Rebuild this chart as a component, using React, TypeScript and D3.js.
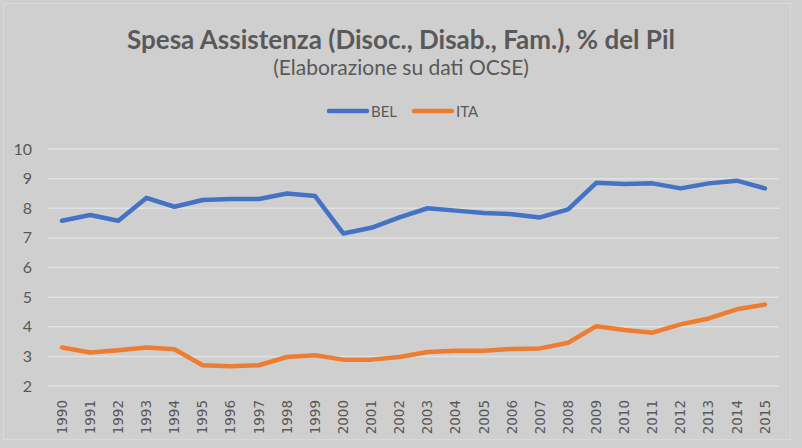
import React, { useEffect, useRef } from "react";
import * as d3 from "d3";

const years = [
  "1990", "1991", "1992", "1993", "1994", "1995", "1996", "1997", "1998",
  "1999", "2000", "2001", "2002", "2003", "2004", "2005", "2006", "2007",
  "2008", "2009", "2010", "2011", "2012", "2013", "2014", "2015",
];

const bel = [
  7.58, 7.77, 7.58, 8.35, 8.05, 8.28, 8.31, 8.31, 8.5, 8.41, 7.15, 7.34, 7.69,
  8.0, 7.92, 7.84, 7.8, 7.69, 7.96, 8.86, 8.82, 8.84, 8.67, 8.84, 8.93, 8.67,
];

const ita = [
  3.3, 3.13, 3.21, 3.3, 3.24, 2.7, 2.67, 2.7, 2.98, 3.04, 2.89, 2.89, 2.98,
  3.15, 3.19, 3.19, 3.25, 3.27, 3.46, 4.02, 3.89, 3.8, 4.08, 4.28, 4.59, 4.75,
];

const yTicks = [2, 3, 4, 5, 6, 7, 8, 9, 10];

const series = [
  { name: "BEL", values: bel, color: "#4472C4" },
  { name: "ITA", values: ita, color: "#ED7D31" },
];

const W = 802;
const H = 448;

const App: React.FC = () => {
  const ref = useRef<SVGSVGElement | null>(null);

  useEffect(() => {
    const svg = d3.select(ref.current);
    svg.selectAll("*").remove();

    const margin = { top: 149, right: 23, bottom: 62, left: 48 };
    const w = W - margin.left - margin.right;
    const h = H - margin.top - margin.bottom;
    const font = "Lato, 'Open Sans', sans-serif";

    // background + frame
    svg.append("rect").attr("width", W).attr("height", H).attr("fill", "#d0cfcf");
    svg
      .append("rect")
      .attr("x", 3.5)
      .attr("y", 3.5)
      .attr("width", 787)
      .attr("height", 436)
      .attr("fill", "none")
      .attr("stroke", "#d9d9d9");

    // titles
    svg
      .append("text")
      .attr("x", 401)
      .attr("y", 49)
      .attr("text-anchor", "middle")
      .style("font-family", font)
      .style("font-size", "26px")
      .style("font-weight", "bold")
      .style("fill", "#595959")
      .text("Spesa Assistenza (Disoc., Disab., Fam.), % del Pil");

    svg
      .append("text")
      .attr("x", 401)
      .attr("y", 75)
      .attr("text-anchor", "middle")
      .style("font-family", font)
      .style("font-size", "21px")
      .style("fill", "#595959")
      .text("(Elaborazione su dati OCSE)");

    // legend
    const legend = svg.append("g").attr("transform", "translate(327,111)");
    series.forEach((s, i) => {
      const g = legend.append("g").attr("transform", `translate(${i * 85},0)`);
      g.append("line")
        .attr("x1", 2)
        .attr("x2", 40)
        .attr("stroke", s.color)
        .attr("stroke-width", 4.5)
        .attr("stroke-linecap", "round");
      g.append("text")
        .attr("x", 44)
        .attr("y", 5.5)
        .style("font-family", font)
        .style("font-size", "15px")
        .style("fill", "#595959")
        .text(s.name);
    });

    const plot = svg
      .append("g")
      .attr("transform", `translate(${margin.left},${margin.top})`);

    const x = d3.scaleBand().domain(years).range([0, w]);
    const y = d3.scaleLinear().domain([2, 10]).range([h, 0]);

    // gridlines
    plot
      .selectAll(".grid")
      .data(yTicks)
      .enter()
      .append("line")
      .attr("x1", 0)
      .attr("x2", w)
      .attr("y1", (d) => y(d))
      .attr("y2", (d) => y(d))
      .attr("stroke", "#e2e2e2")
      .attr("stroke-width", 1.5);

    // y labels
    plot
      .selectAll(".ylab")
      .data(yTicks)
      .enter()
      .append("text")
      .attr("x", -16)
      .attr("y", (d) => y(d))
      .attr("dy", "0.35em")
      .attr("text-anchor", "end")
      .style("font-family", font)
      .style("font-size", "16px")
      .style("fill", "#595959")
      .text((d) => d);

    // x labels, rotated
    plot
      .selectAll(".xlab")
      .data(years)
      .enter()
      .append("text")
      .attr(
        "transform",
        (d) => `translate(${(x(d) ?? 0) + x.bandwidth() / 2},${h + 14}) rotate(-90)`
      )
      .attr("dy", "0.35em")
      .attr("text-anchor", "end")
      .style("font-family", "'DejaVu Sans', sans-serif")
      .style("font-size", "13.5px")
      .style("fill", "#595959")
      .text((d) => d);

    // lines
    const line = d3
      .line<number>()
      .x((_, i) => (x(years[i]) ?? 0) + x.bandwidth() / 2)
      .y((d) => y(d));

    series.forEach((s) => {
      plot
        .append("path")
        .datum(s.values)
        .attr("d", line)
        .attr("fill", "none")
        .attr("stroke", s.color)
        .attr("stroke-width", 4.5)
        .attr("stroke-linejoin", "round")
        .attr("stroke-linecap", "round");
    });
  }, []);

  return (
    <svg
      ref={ref}
      width={W}
      height={H}
      style={{ position: "absolute", left: 0, top: 0 }}
    ></svg>
  );
};

export default App;
